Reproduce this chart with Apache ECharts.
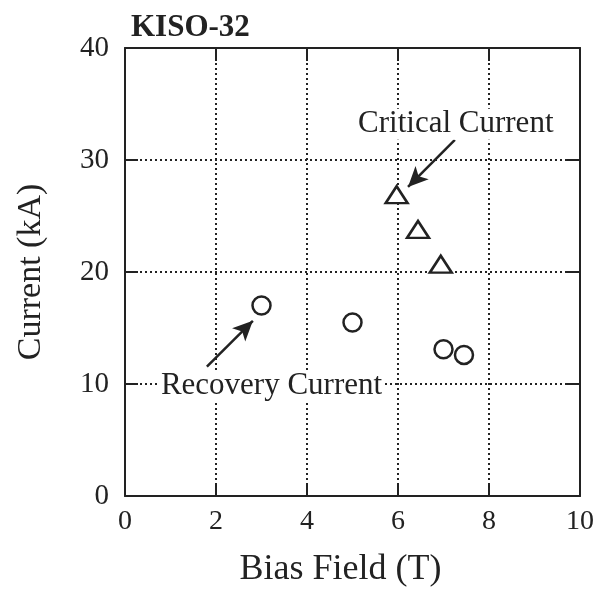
<!DOCTYPE html>
<html>
<head>
<meta charset="utf-8">
<script src="https://cdn.jsdelivr.net/npm/echarts@6/dist/echarts.min.js"></script>
<style>
  html, body { margin: 0; padding: 0; background: #fff; }
  #main { width: 599px; height: 593px; }
</style>
</head>
<body>
<div id="main"></div>
<script>
// critical current (triangles)
var criticalField = [5.97, 6.44, 6.94];
var criticalCurrent = [26.9, 23.8, 20.7];
// recovery current (circles)
var recoveryField = [3.0, 5.0, 7.0, 7.45];
var recoveryCurrent = [17.0, 15.5, 13.1, 12.6];

var ink = '#222';
var serif = '"Liberation Serif", "DejaVu Serif", serif';

function pairs(xs, ys) {
  return xs.map(function (x, i) { return [x, ys[i]]; });
}

var chart = echarts.init(document.getElementById('main'));

var dotted = { show: true, lineStyle: { color: ink, type: [2, 3], width: 2 } };
var tick = { show: true, inside: true, length: 13, lineStyle: { color: ink, width: 2 } };
var line = { show: true, onZero: false, lineStyle: { color: ink, width: 2 } };

var option = {
  animation: false,
  backgroundColor: '#fff',
  title: {
    text: 'KISO-32',
    left: 126,
    top: 7,
    textStyle: { fontFamily: serif, fontWeight: 'bold', fontSize: 31, color: ink }
  },
  grid: { left: 125, right: 19, top: 48, bottom: 95 },
  xAxis: [{
    type: 'value', min: 0, max: 10, interval: 2,
    name: 'Bias Field (T)', nameLocation: 'middle', nameGap: 56,
    nameTextStyle: { fontFamily: serif, fontSize: 36, color: ink, padding: [0, 24, 0, 0] },
    axisLine: line, axisTick: tick, splitLine: dotted,
    axisLabel: { fontFamily: serif, fontSize: 28, color: ink, margin: 12 }
  }, {
    type: 'value', min: 0, max: 10, interval: 2, position: 'top',
    axisLine: line, axisTick: tick, splitLine: { show: false }, axisLabel: { show: false }
  }],
  yAxis: [{
    type: 'value', min: 0, max: 40, interval: 10,
    name: 'Current (kA)', nameLocation: 'middle', nameGap: 77,
    nameTextStyle: { fontFamily: serif, fontSize: 34, color: ink },
    axisLine: line, axisTick: tick, splitLine: dotted,
    axisLabel: { fontFamily: serif, fontSize: 29, color: ink, margin: 16 }
  }, {
    type: 'value', min: 0, max: 40, interval: 10, position: 'right',
    axisLine: line, axisTick: tick, splitLine: { show: false }, axisLabel: { show: false }
  }],
  series: [{
    name: 'Critical Current',
    type: 'scatter',
    symbol: 'triangle',
    symbolSize: [22, 17],
    itemStyle: { color: '#fff', borderColor: ink, borderWidth: 2.5, opacity: 1 },
    data: pairs(criticalField, criticalCurrent),
    markLine: {
      silent: true,
      symbol: ['none', 'arrow'],
      symbolSize: [14, 20],
      lineStyle: { color: ink, width: 2.5, type: 'solid' },
      label: { show: false },
      data: [[{ coord: [7.25, 31.8] }, { coord: [6.22, 27.6] }]]
    },
    markPoint: {
      symbol: 'circle', symbolSize: 0,
      label: {
        show: true, formatter: 'Critical Current',
        fontFamily: serif, fontSize: 31, color: ink,
        backgroundColor: '#fff', padding: [0, 2]
      },
      data: [{ coord: [7.27, 33.2] }]
    }
  }, {
    name: 'Recovery Current',
    type: 'scatter',
    symbol: 'circle',
    symbolSize: 18,
    itemStyle: { color: '#fff', borderColor: ink, borderWidth: 2.5, opacity: 1 },
    data: pairs(recoveryField, recoveryCurrent),
    markLine: {
      silent: true,
      symbol: ['none', 'arrow'],
      symbolSize: [14, 20],
      lineStyle: { color: ink, width: 2.5, type: 'solid' },
      label: { show: false },
      data: [[{ coord: [1.8, 11.56] }, { coord: [2.81, 15.64] }]]
    },
    markPoint: {
      symbol: 'circle', symbolSize: 0,
      label: {
        show: true, formatter: 'Recovery Current',
        fontFamily: serif, fontSize: 31, color: ink,
        backgroundColor: '#fff', padding: [0, 2]
      },
      data: [{ coord: [3.22, 9.87] }]
    }
  }]
};

chart.setOption(option);
</script>
</body>
</html>
